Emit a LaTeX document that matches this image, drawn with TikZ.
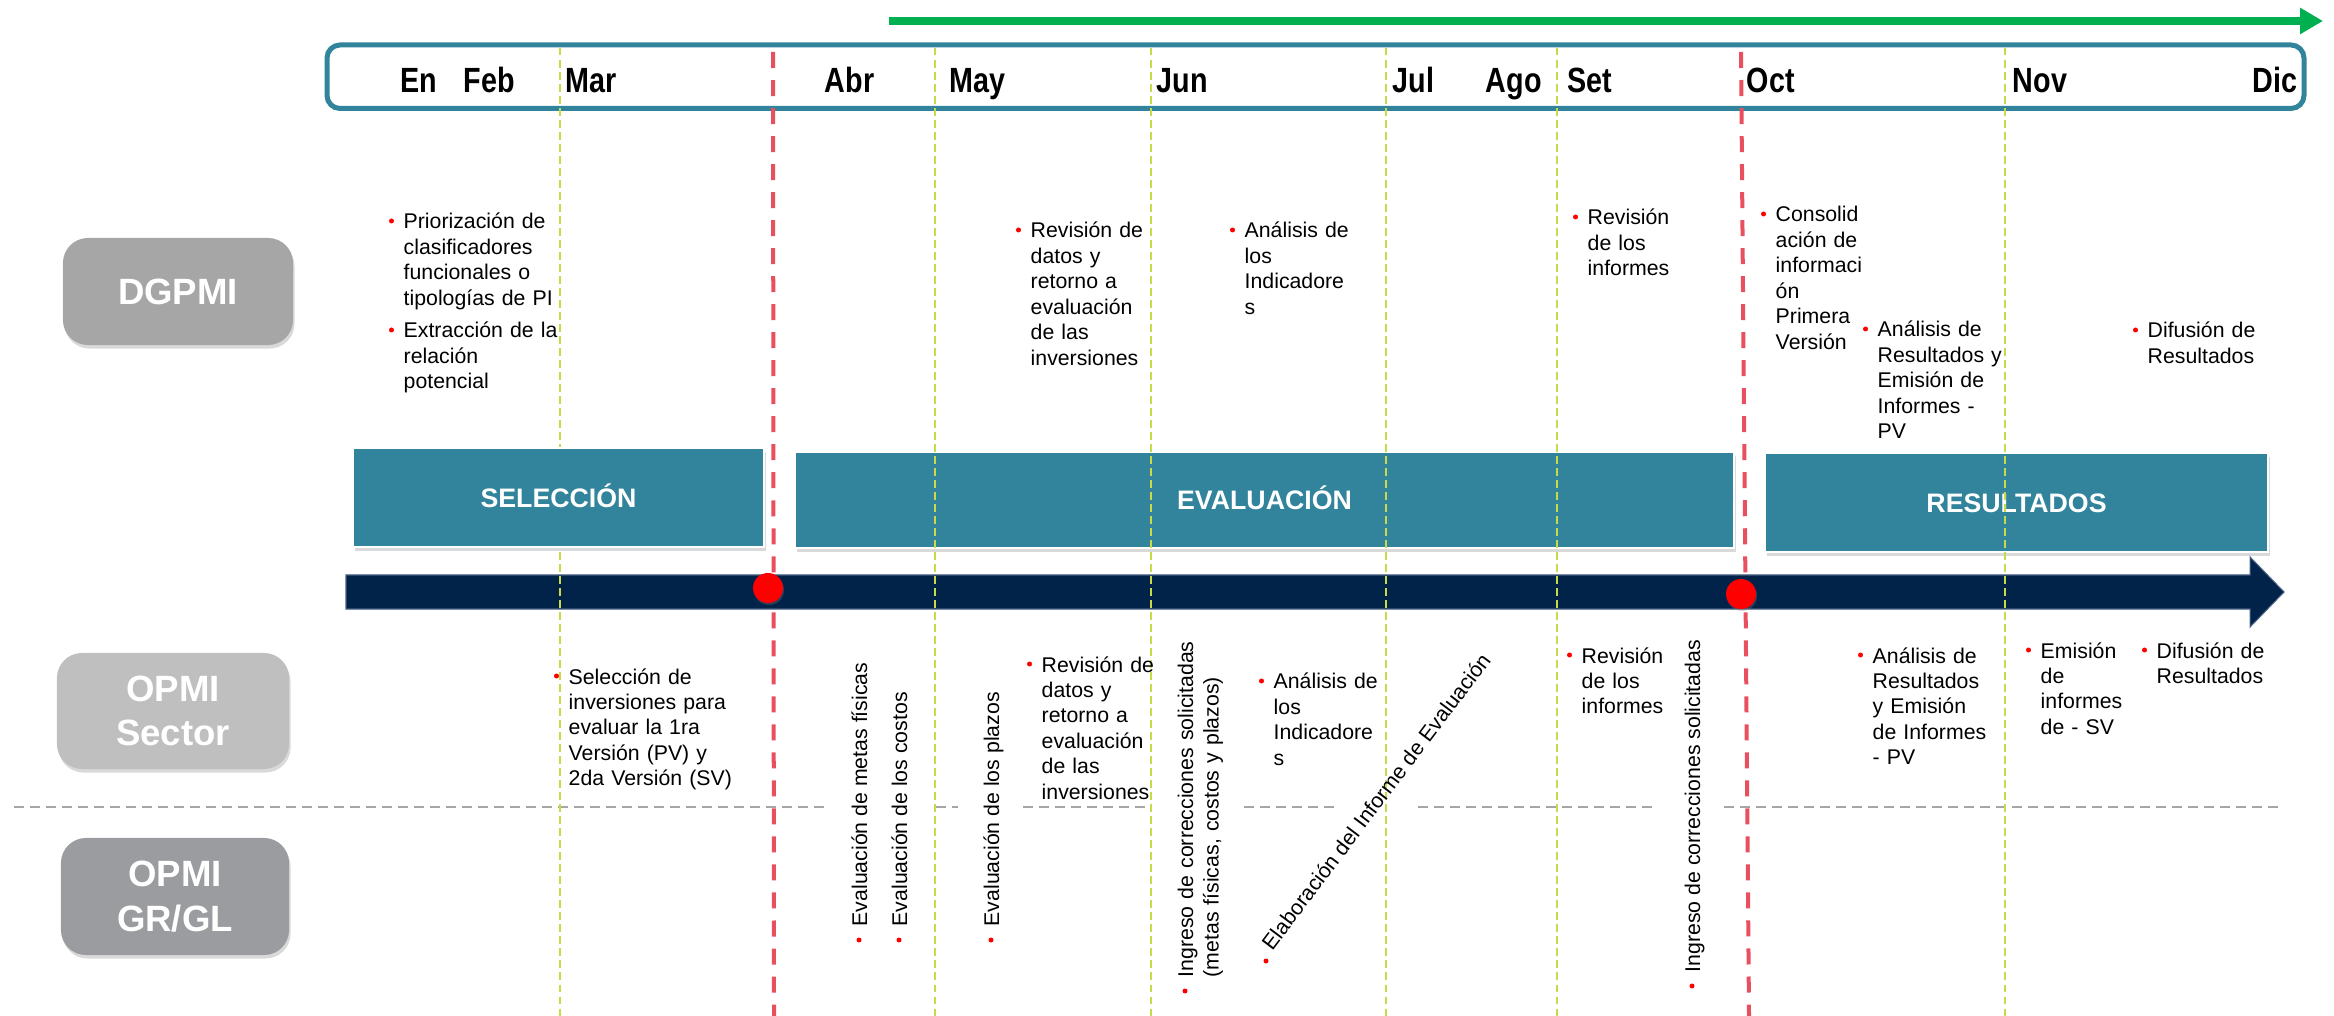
\documentclass[tikz,border=0pt]{standalone}
\usepackage{fontspec}
\setmainfont{Liberation Sans}
\newfontfamily\mesfont[FakeStretch=0.82]{Liberation Sans}
\usetikzlibrary{arrows.meta,shadows}

\definecolor{azulpet}{HTML}{31849B}
\definecolor{verdef}{HTML}{00B050}
\definecolor{marino}{HTML}{022349}
\definecolor{rojol}{HTML}{E8505F}
\definecolor{verdel}{HTML}{C8DA4A}
\definecolor{grisa}{HTML}{A6A6A6}
\definecolor{grisb}{HTML}{BFBFBF}
\definecolor{grisc}{HTML}{9A9CA0}

\begin{document}
\begin{tikzpicture}[x=0.01cm,y=-0.01cm,
    mes/.style={font=\mesfont\fontsize{9.96}{12}\selectfont\bfseries, anchor=base west, inner sep=0pt},
    rol/.style={rounded corners=0.25cm, text=white, align=center, font=\bfseries\fontsize{10.4}{12.7}\selectfont,
        drop shadow={shadow xshift=0.015cm, shadow yshift=-0.035cm, opacity=0.3}},
    fase/.style={fill=azulpet, draw=white, line width=0.6pt, text=white, font=\bfseries\fontsize{7.6}{9}\selectfont,
        text height=0.19cm, text depth=0pt, drop shadow={shadow xshift=0.02cm, shadow yshift=-0.04cm, opacity=0.3}},
    txt/.style={font=\fontsize{6.05}{7.25}\selectfont, inner sep=0pt, anchor=base west},
    blq/.style={txt, text width=3cm, align=left},
    bala/.style={circle, fill=red, inner sep=0pt, minimum size=0.05cm},
    guia/.style={verdel, line width=0.02cm, dash pattern=on 0.075cm off 0.045cm},
    corte/.style={rojol, line width=0.04cm, dash pattern=on 0.16cm off 0.12cm},
    linea/.style={grisa, line width=0.025cm, dash pattern=on 0.1cm off 0.06cm},
    punto/.style={circle, fill=red, inner sep=0pt, minimum size=0.3cm,
        drop shadow={shadow xshift=0.01cm, shadow yshift=-0.02cm, opacity=0.3}}]
            \useasboundingbox (0,0) rectangle (2334,1016);
            \coordinate (ini) at (889,21);
            \coordinate (fin) at (2323,21);
            \draw [verdef, line width=0.08cm, -{Triangle[length=0.23cm,width=0.25cm]}] (ini) -- (fin);
            \draw [azulpet, line width=0.05cm, rounded corners=0.13cm] (327,45) rectangle (2304,108.5);
            \node [mes] (mEn) at (400,93) {En};
            \node [mes] (mFeb) at (463,93) {Feb};
            \node [mes] (mMar) at (565,93) {Mar};
            \node [mes] (mAbr) at (824,93) {Abr};
            \node [mes] (mMay) at (949,93) {May};
            \node [mes] (mJun) at (1156,93) {Jun};
            \node [mes] (mJul) at (1392,93) {Jul};
            \node [mes] (mAgo) at (1485,93) {Ago};
            \node [mes] (mSet) at (1567,93) {Set};
            \node [mes] (mOct) at (1746,93) {Oct};
            \node [mes] (mNov) at (2012,93) {Nov};
            \node [mes] (mDic) at (2252,93) {Dic};
            \node [rol, fill=grisa, minimum width=2.30cm, minimum height=1.07cm] (dgpmi) at (178,291.5) {DGPMI};
            \node [rol, fill=grisb, minimum width=2.32cm, minimum height=1.16cm] (sector) at (173,711) {OPMI\\Sector};
            \node [rol, fill=grisc, minimum width=2.28cm, minimum height=1.17cm] (grgl) at (175,896.5) {OPMI\\GR/GL};
            \node [fase, minimum width=9.39cm, minimum height=0.96cm] (eval) at (1264.5,500) {EVALUACIÓN};
            \node [fase, minimum width=5.03cm, minimum height=0.99cm] (res) at (2016.5,502.5) {RESULTADOS};
            \fill [marino, draw={rgb,255:red,70;green,95;blue,130}, line width=0.3pt]
                (346,575) -- (2250,575) -- (2250,557) -- (2284,592) -- (2250,627) -- (2250,609) -- (346,609) -- cycle;
            \foreach \a/\b in {14/825, 936/958, 1023/1150, 1244/1337, 1418/1658, 1724/2284}
                \draw [linea] (\a,807) -- (\b,807);
            \foreach \x in {560,935,1151,1386,1557,2005}
                \draw [guia] (\x,48) -- (\x,1016);
            \node [fase, minimum width=4.11cm, minimum height=0.99cm] (sel) at (558.5,497.5) {SELECCIÓN};

            \node [blq] (u1a) at (403,229) {Priorización de\\clasificadores\\funcionales o\\tipologías de PI};
            \node [blq] (u1b) at (403,338) {Extracción de la\\relación\\potencial};
            \node [blq] (u2) at (1030,238) {Revisión de\\datos y\\retorno a\\evaluación\\de las\\inversiones};
            \node [blq] (u3) at (1244,238) {Análisis de\\los\\Indicadore\\s};
            \node [blq] (u4) at (1587,225) {Revisión\\de los\\informes};
            \node [blq] (u5) at (1775,222) {Consolid\\ación de\\informaci\\ón\\Primera\\Versión};
            \node [blq] (u6) at (1877,337) {Análisis de\\Resultados y\\Emisión de\\Informes -\\PV};
            \node [blq] (u7) at (2147,338) {Difusión de\\Resultados};
            \foreach \n in {u1a,u1b,u2,u3,u4,u5,u6,u7}
                \node [bala] (b\n) at ([shift={(-11.5,-8)}]\n.base west) {};

            \node [blq] (l1) at (568,684) {Selección de\\inversiones para\\evaluar la 1ra\\Versión (PV) y\\2da Versión (SV)};
            \node [blq] (l5) at (1041,672) {Revisión de\\datos y\\retorno a\\evaluación\\de las\\inversiones};
            \node [blq] (l7) at (1273,689) {Análisis de\\los\\Indicadore\\s};
            \node [blq] (l9) at (1581,663) {Revisión\\de los\\informes};
            \node [blq] (l11) at (1872,663) {Análisis de\\Resultados\\y Emisión\\de Informes\\- PV};
            \node [blq] (l12) at (2040,658) {Emisión\\de\\informes\\de - SV};
            \node [blq] (l13) at (2156,658) {Difusión de\\Resultados};
            \foreach \n in {l1,l5,l7,l9,l11,l12,l13}
                \node [bala] (b\n) at ([shift={(-11.5,-8)}]\n.base west) {};

            \node [txt, rotate=90] (l2) at (867,927) {Evaluación de metas físicas};
            \node [txt, rotate=90] (l3) at (907,927) {Evaluación de los costos};
            \node [txt, rotate=90] (l4) at (999,927) {Evaluación de los plazos};
            \node [blq, text width=4cm, rotate=90] (l6) at (1193,978) {Ingreso de correcciones solicitadas\\(metas físicas, costos y plazos)};
            \node [txt, rotate=90] (l10) at (1700,973) {Ingreso de correcciones solicitadas};
            \foreach \n in {l2,l3,l4,l6,l10}
                \node [bala] (b\n) at ([shift={(-8,13)}]\n.base west) {};
            \node [txt, rotate=53] (l8) at (1272,952) {Elaboración del Informe de Evaluación};
            \node [bala] (bl8) at ([shift={(-6,9)}]l8.base west) {};

            \draw [corte] (773,52) -- (774,1016);
            \draw [corte] (1741,52) -- (1749,1016);
            \node [punto] (p1) at (768,588) {};
            \node [punto] (p2) at (1741,594) {};
        \end{tikzpicture}
\end{document}
